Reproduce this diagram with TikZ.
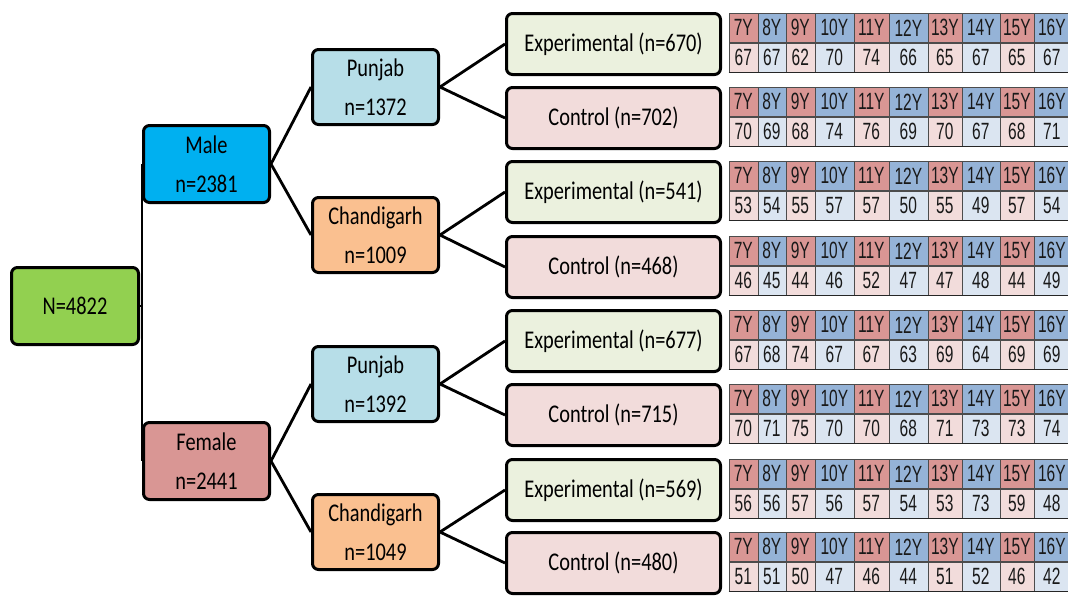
\documentclass[tikz,border=0pt]{standalone}
\usepackage{fontspec}
\setmainfont{Carlito}[FakeStretch=0.8]
\newfontfamily\cellfont{Liberation Sans}[FakeStretch=0.66]
\usetikzlibrary{calc,positioning}

\definecolor{rootgreen}{HTML}{92D050}
\definecolor{malecyan}{HTML}{00B0F0}
\definecolor{femalerose}{HTML}{D99694}
\definecolor{punjabblue}{HTML}{B7DEE8}
\definecolor{chandorange}{HTML}{FAC090}
\definecolor{expgreen}{HTML}{EBF1DE}
\definecolor{ctlpink}{HTML}{F2DCDB}
\definecolor{hdr1}{HTML}{D99694}
\definecolor{hdr0}{HTML}{95B3D7}
\definecolor{val1}{HTML}{F2DCDB}
\definecolor{val0}{HTML}{DBE5F1}

% left edges of the age columns (last one = right edge)
\def\colL{{727,756,784,813,852,887,926,960,998,1032,1068}}

\begin{document}
\begin{tikzpicture}[
	x=1pt, y=-1pt,
	font=\fontsize{25.5}{39}\selectfont
	]
\tikzset{
	base/.style = { rectangle, rounded corners=6pt, draw=black, line width=3pt, align=center, inner sep=0pt, text=black },
	total/.style = { base, fill=rootgreen, minimum width=127pt, minimum height=77pt },
	gender/.style = { base, minimum width=126pt, minimum height=77pt },
	region/.style = { base, minimum width=126pt, minimum height=75pt },
	arm/.style = { base, minimum width=214pt, minimum height=61pt },
	link/.style = { line width=2.8pt },
	cell/.style = { rectangle, draw=black!70, line width=0.7pt, inner sep=0pt, minimum height=29pt, anchor=north west, text=black!90, font=\cellfont\fontsize{23.5}{23.5}\selectfont },
	tableedge/.style = { line width=1.8pt, draw=black!85 }
}
\useasboundingbox (0,0) rectangle (1068,595);

	% sample and gender
	\node (root) [total] at (75,306) {N=4822};
	\node (male) [gender, fill=malecyan] at (206.5,164) {Male\\n=2381};
	\node (female) [gender, fill=femalerose] at (206.5,461) {Female\\n=2441};

	% regions
	\node (punjabM) [region, fill=punjabblue] at (375.5,87) {Punjab\\n=1372};
	\node (chandM) [region, fill=chandorange] at (375.5,235) {Chandigarh\\n=1009};
	\node (punjabF) [region, fill=punjabblue] at (375.5,384) {Punjab\\n=1392};
	\node (chandF) [region, fill=chandorange] at (375.5,532) {Chandigarh\\n=1049};

	% study arms
	\node (expPM) [arm, fill=expgreen] at (613.5,44) {Experimental (n=670)};
	\node (ctlPM) [arm, fill=ctlpink] at (613.5,118) {Control (n=702)};
	\node (expCM) [arm, fill=expgreen] at (613.5,192) {Experimental (n=541)};
	\node (ctlCM) [arm, fill=ctlpink] at (613.5,267) {Control (n=468)};
	\node (expPF) [arm, fill=expgreen] at (613.5,341) {Experimental (n=677)};
	\node (ctlPF) [arm, fill=ctlpink] at (613.5,415) {Control (n=715)};
	\node (expCF) [arm, fill=expgreen] at (613.5,490) {Experimental (n=569)};
	\node (ctlCF) [arm, fill=ctlpink] at (613.5,563) {Control (n=480)};

	% paths
	\draw [link] (male.west) -- (female.west);
	\draw [link] (root.east) -- (root.east -| male.west);
	\draw [link] (male.east) -- (punjabM.west);
	\draw [link] (male.east) -- (chandM.west);
	\draw [link] (female.east) -- (punjabF.west);
	\draw [link] (female.east) -- (chandF.west);
	\foreach \reg/\e/\c in {punjabM/expPM/ctlPM, chandM/expCM/ctlCM, punjabF/expPF/ctlPF, chandF/expCF/ctlCF}{
		\draw [link] (\reg.east) -- (\e.west);
		\draw [link] (\reg.east) -- (\c.west);
	}

	% age tables
	\foreach \grp/\vals in {
		expPM/{67,67,62,70,74,66,65,67,65,67},
		ctlPM/{70,69,68,74,76,69,70,67,68,71},
		expCM/{53,54,55,57,57,50,55,49,57,54},
		ctlCM/{46,45,44,46,52,47,47,48,44,49},
		expPF/{67,68,74,67,67,63,69,64,69,69},
		ctlPF/{70,71,75,70,70,68,71,73,73,74},
		expCF/{56,56,57,56,57,54,53,73,59,48},
		ctlCF/{51,51,50,47,46,44,51,52,46,42}}{
		\foreach \v [count=\i] in \vals {
			\pgfmathsetmacro\xa{\colL[\i-1]}
			\pgfmathsetmacro\xb{\colL[\i]}
			\pgfmathsetmacro\w{\xb-\xa}
			\pgfmathtruncatemacro\age{\i+6}
			\pgfmathtruncatemacro\odd{mod(\i,2)}
			\node (\grp h\i) [cell, fill=hdr\odd, minimum width=\w pt] at ($(\grp.east)+(\xa-720.5,-31)$) {\age Y};
			\node (\grp v\i) [cell, fill=val\odd, minimum width=\w pt, below=0pt of \grp h\i.south west, anchor=north west] {\v};
		}
		\draw [tableedge] (\grp v1.south west) -- (\grp v10.south east);
	}

\end{tikzpicture}
\end{document}
